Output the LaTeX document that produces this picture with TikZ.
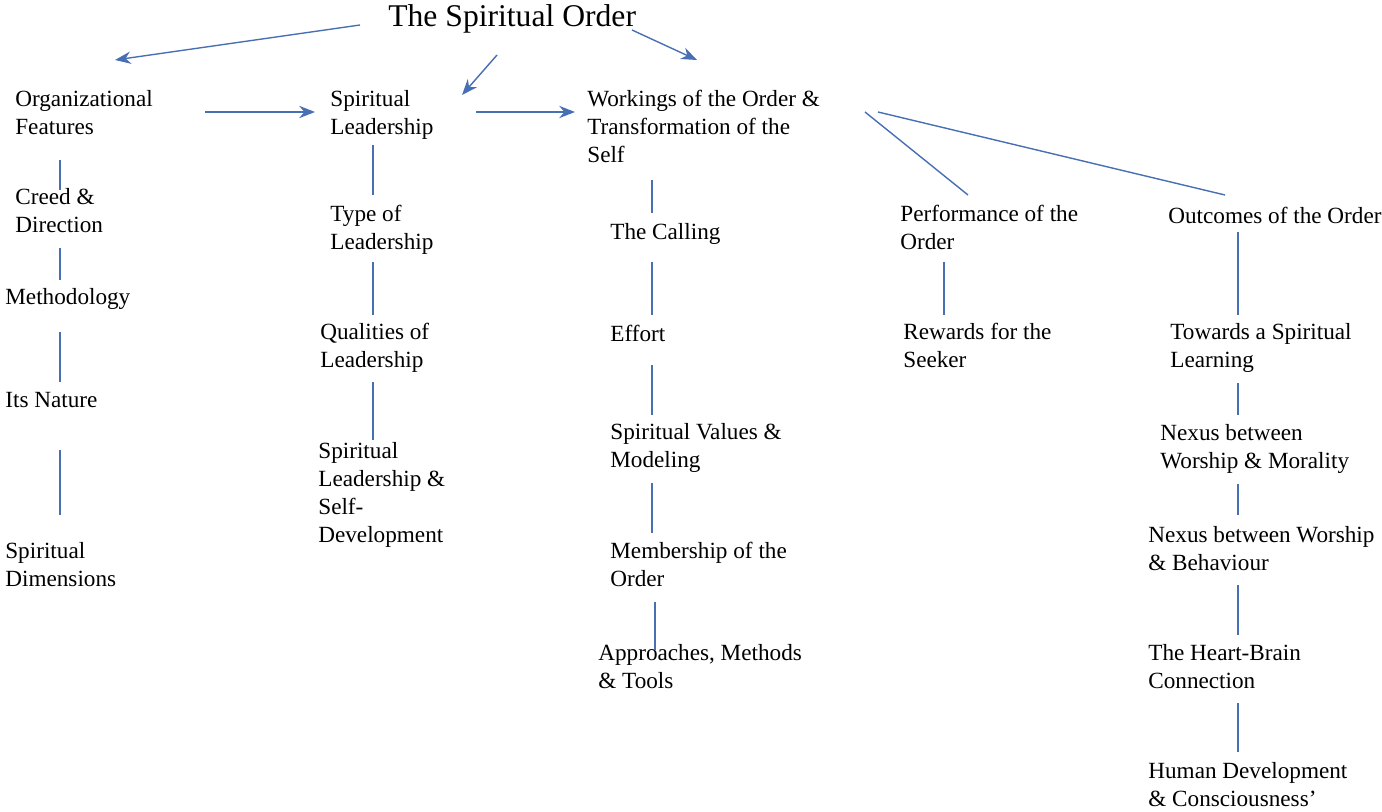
\documentclass[tikz,border=0pt]{standalone}
\usepackage{fontspec}
\setmainfont{Liberation Serif}
\usetikzlibrary{arrows.meta, positioning}
\definecolor{linkblue}{RGB}{72,110,180}
\tikzset {
    item/.style = {
        anchor = north west,
        align = left,
        inner sep = 0pt,
        font = {\fontsize{13.2}{16}\selectfont}
    },
    title/.style = {
        anchor = north west,
        inner sep = 0pt,
        font = {\fontsize{18}{20}\selectfont}
    },
    link/.style = {
        draw = linkblue,
        line width = 0.8pt
    },
    flow/.style = {
        link,
        -{Stealth[length=9pt, width=7pt]}
    }
}
\begin{document}
\begin{tikzpicture}[x=0.02cm, y=-0.02cm]
        \useasboundingbox (0,0) rectangle (1382,811);

        % Top : title and the three main headings
        \node [title] at (388, 4)   (order)   {The Spiritual Order};
        \node [item]  at (15, 90)   (org)     {Organizational\\Features};
        \node [item]  at (330, 90)  (lead)    {Spiritual\\Leadership};
        \node [item]  at (587, 90)  (work)    {Workings of the Order \&\\Transformation of the\\Self};
        \node [item]  at (900, 205) (perf)    {Performance of the\\Order};
        \node [item]  at (1168, 207) (outc)   {Outcomes of the Order};

        % First column
        \node [item] at (15, 188)  (creed)   {Creed \&\\Direction};
        \node [item] at (5, 288)   (method)  {Methodology};
        \node [item] at (5, 392)   (nature)  {Its Nature};
        \node [item] at (5, 542)   (dims)    {Spiritual\\Dimensions};

        % Second column
        \node [item] at (330, 205) (type)    {Type of\\Leadership};
        \node [item] at (320, 323) (qual)    {Qualities of\\Leadership};
        \node [item] at (318, 442) (selfdev) {Spiritual\\Leadership \&\\Self-\\Development};

        % Third column
        \node [item] at (610, 223) (calling) {The Calling};
        \node [item] at (610, 325) (effort)  {Effort};
        \node [item] at (610, 423) (values)  {Spiritual Values \&\\Modeling};
        \node [item] at (610, 542) (member)  {Membership of the\\Order};
        \node [item] at (598, 644) (tools)   {Approaches, Methods\\\& Tools};

        % Fourth column
        \node [item] at (903, 323) (reward)  {Rewards for the\\Seeker};

        % Fifth column
        \node [item] at (1170, 323) (learn)  {Towards a Spiritual\\Learning};
        \node [item] at (1160, 424) (moral)  {Nexus between\\Worship \& Morality};
        \node [item] at (1148, 526) (behav)  {Nexus between Worship\\\& Behaviour};
        \node [item] at (1148, 644) (heart)  {The Heart-Brain\\Connection};
        \node [item] at (1148, 762) (human)  {Human Development\\\& Consciousness’};

        % Arrows between the headings
        \coordinate (t1) at (360, 25);   \coordinate (h1) at (115, 60);
        \coordinate (t2) at (497, 55);   \coordinate (h2) at (462, 95);
        \coordinate (t3) at (632, 30);   \coordinate (h3) at (697, 60);
        \coordinate (o1) at (205, 112);  \coordinate (l1) at (315, 112);
        \coordinate (l2) at (476, 112);  \coordinate (w1) at (575, 112);
        \path [flow] (t1) -- (h1);
        \path [flow] (t2) -- (h2);
        \path [flow] (t3) -- (h3);
        \path [flow] (o1) -- (l1);
        \path [flow] (l2) -- (w1);

        % Lines to the last two columns
        \coordinate (w2) at (865, 112);  \coordinate (p1) at (968, 195);
        \coordinate (w3) at (878, 112);  \coordinate (p2) at (1225, 195);
        \path [link] (w2) -- (p1);
        \path [link] (w3) -- (p2);

        % Vertical links inside the columns
        \foreach \x/\ya/\yb in {60/160/190, 60/248/280, 60/332/382, 60/450/515,
                373/145/195, 373/262/315, 373/382/440,
                652/180/213, 652/262/315, 652/365/415, 652/483/533, 655/602/650,
                944/262/315,
                1238/232/315, 1238/383/415, 1238/484/515, 1238/585/635, 1238/703/752}
            \path [link] (\x, \ya) -- (\x, \yb);
    \end{tikzpicture}
\end{document}
